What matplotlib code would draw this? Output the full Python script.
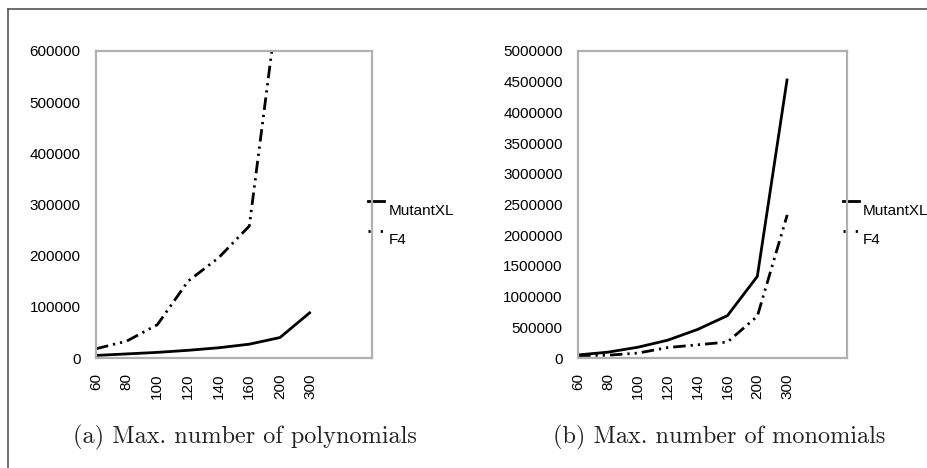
import numpy as np
import matplotlib.pyplot as plt
from matplotlib.lines import Line2D

plt.rcParams['font.family'] = ['Liberation Sans', 'DejaVu Sans']

# 数据：横轴类别与两种算法的结果
categories = ['60', '80', '100', '120', '140', '160', '200', '300']

poly_mutantxl = [5000, 8000, 11000, 15000, 20000, 27000, 40000, 90000]
poly_f4 = [18000, 33000, 65000, 150000, 196000, 258000, 725000]

mono_mutantxl = [50000, 95000, 175000, 290000, 465000, 690000, 1330000, 4550000]
mono_f4 = [40000, 45000, 80000, 170000, 215000, 260000, 680000, 2330000]

captions = ['(a) Max. number of polynomials', '(b) Max. number of monomials']

SPINE = '#b0b0b0'
LW = 2.0
F4_DASH = (4.5, 1.8, 0.8, 1.8, 0.8, 1.8)


def draw_panel(ax, mutant, f4, ymax, ystep):
    x = np.arange(len(categories))
    ax.plot(x[:len(mutant)], mutant, color='black', lw=LW,
            solid_capstyle='butt')
    ax.plot(x[:len(f4)], f4, color='black', lw=LW, dashes=F4_DASH,
            dash_capstyle='butt')
    ax.set_xlim(0, 9)
    ax.set_ylim(0, ymax)
    ax.set_xticks(x)
    ax.set_xticklabels(categories, rotation=90)
    ax.set_yticks(np.arange(0, ymax + 1, ystep))
    ax.set_yticklabels([str(int(v)) for v in np.arange(0, ymax + 1, ystep)])
    ax.tick_params(length=0, labelsize=11, pad=11)
    for s in ax.spines.values():
        s.set_color(SPINE)
        s.set_linewidth(1.6)

    # 图例（Excel 风格：线段在左，文字略偏下）
    y1, y2 = 0.51, 0.415
    ax.add_line(Line2D([0.985, 1.045], [y1, y1], transform=ax.transAxes,
                       color='black', lw=LW, clip_on=False))
    ax.add_line(Line2D([0.985, 1.045], [y2, y2], transform=ax.transAxes,
                       color='black', lw=LW, dashes=(0.8, 3.6),
                       clip_on=False))
    ax.text(1.06, y1 - 0.03, 'MutantXL', transform=ax.transAxes,
            fontsize=11, va='center', ha='left')
    ax.text(1.06, y2 - 0.03, 'F4', transform=ax.transAxes,
            fontsize=11, va='center', ha='left')


fig = plt.figure(figsize=(9.28, 4.68), dpi=100)
ax1 = fig.add_axes([96 / 928, 1 - 358 / 468, 276 / 928, 307 / 468])
ax2 = fig.add_axes([578 / 928, 1 - 358 / 468, 269 / 928, 307 / 468])

draw_panel(ax1, poly_mutantxl, poly_f4, 600000, 100000)
draw_panel(ax2, mono_mutantxl, mono_f4, 5000000, 500000)

fig.text(245 / 928, 1 - 437 / 468, captions[0], family='cmr10',
         fontsize=17.5, ha='center', va='center', color='#222222')
fig.text(719 / 928, 1 - 437 / 468, captions[1], family='cmr10',
         fontsize=17.5, ha='center', va='center', color='#222222')

# 外框（上、左）
fig.add_artist(Line2D([8 / 928, 1.0], [1 - 9 / 468, 1 - 9 / 468],
                      transform=fig.transFigure, color='#555555', lw=1.2))
fig.add_artist(Line2D([8 / 928, 8 / 928], [0.0, 1 - 9 / 468],
                      transform=fig.transFigure, color='#555555', lw=1.2))

fig.savefig('out.png', dpi=100, facecolor='white')
